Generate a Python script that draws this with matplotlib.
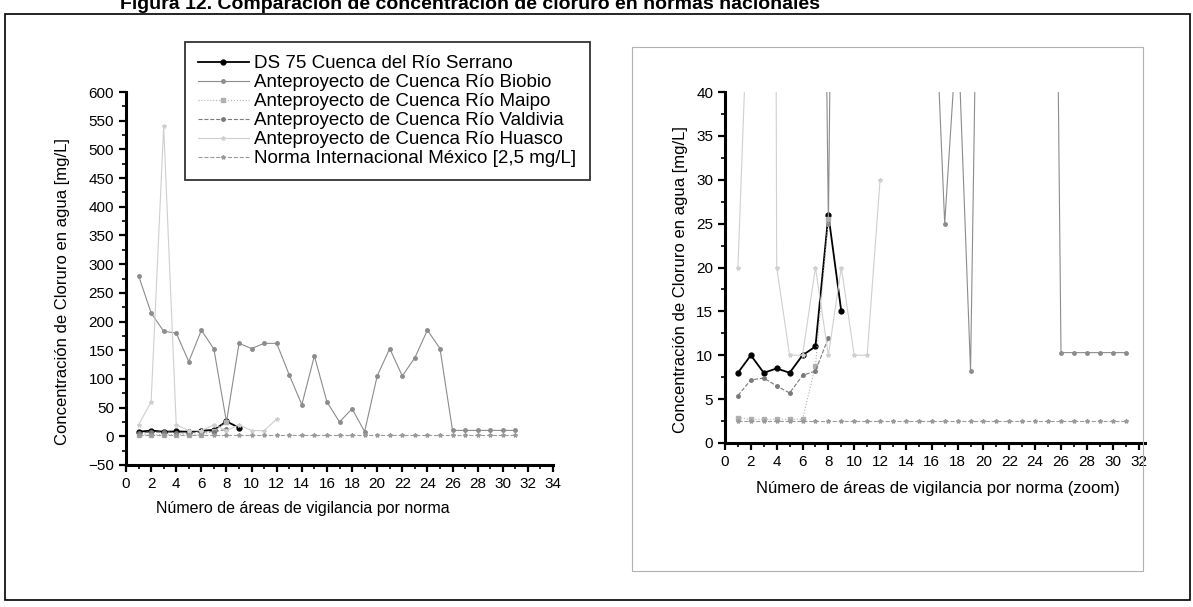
import matplotlib
matplotlib.use("Agg")
import matplotlib.pyplot as plt
from matplotlib.ticker import MultipleLocator
from matplotlib.patches import Rectangle
from matplotlib.lines import Line2D

plt.rcParams['font.family'] = ['Liberation Sans', 'DejaVu Sans']

# ---- data ----
x_serrano = [1, 2, 3, 4, 5, 6, 7, 8, 9]
serrano = [8, 10, 8, 8.5, 8, 10, 11, 26, 15]

x_biobio = list(range(1, 32))
biobio = [280, 215, 183, 180, 130, 185, 152, 25, 162, 153, 162, 162, 107, 55, 140,
          60, 25, 48, 8.2, 105, 153, 105, 137, 185, 153,
          10.3, 10.3, 10.3, 10.3, 10.3, 10.3]

x_maipo = [1, 2, 3, 4, 5, 6, 7, 8]
maipo = [2.9, 2.7, 2.7, 2.7, 2.7, 2.7, 8.8, 25.5]

x_valdivia = [1, 2, 3, 4, 5, 6, 7, 8]
valdivia = [5.4, 7.2, 7.4, 6.5, 5.7, 7.7, 8.2, 12.0]

x_huasco = [1, 2, 3, 4, 5, 6, 7, 8, 9, 10, 11, 12]
huasco = [20, 60, 540, 20, 10, 10, 20, 10, 20, 10, 10, 30]

x_norma = list(range(1, 32))
norma = [2.5] * 31

labels = ["DS 75 Cuenca del Río Serrano",
          "Anteproyecto de Cuenca Río Biobio",
          "Anteproyecto de Cuenca Río Maipo",
          "Anteproyecto de Cuenca Río Valdivia",
          "Anteproyecto de Cuenca Río Huasco",
          "Norma Internacional México [2,5 mg/L]"]

styles = [
    dict(color="black", lw=1.3, marker="o", ms=3.5, ls="-"),
    dict(color="#8c8c8c", lw=0.8, marker="o", ms=2.5, ls="-"),
    dict(color="#b0b0b0", lw=0.8, marker="s", ms=2.5, ls=":"),
    dict(color="#7a7a7a", lw=0.8, marker="o", ms=2.5, ls="--"),
    dict(color="#cfcfcf", lw=0.8, marker="*", ms=3, ls="-"),
    dict(color="#9a9a9a", lw=0.8, marker="*", ms=3, ls="--"),
]
series = [(x_serrano, serrano), (x_biobio, biobio), (x_maipo, maipo),
          (x_valdivia, valdivia), (x_huasco, huasco), (x_norma, norma)]

W, H = 1193, 607
fig = plt.figure(figsize=(W / 100, H / 100), dpi=100)

def fx(px):
    return px / W

def fy(py):
    return 1 - py / H

# frames
fig.patches.append(Rectangle((fx(5), fy(600)), fx(1190 - 5), (600 - 14) / H,
                             transform=fig.transFigure, fill=False, ec="black", lw=1.2))
fig.patches.append(Rectangle((fx(632), fy(571)), fx(1143 - 632), (571 - 47) / H,
                             transform=fig.transFigure, fill=False, ec="#b0b0b0", lw=0.8))

fig.text(fx(120), fy(9), "Figura 12. Comparación de concentración de cloruro en normas nacionales",
         fontsize=14, fontweight="bold", va="baseline", ha="left")

def style_axes(ax):
    for s in ["top", "right"]:
        ax.spines[s].set_visible(False)
    for s in ["left", "bottom"]:
        ax.spines[s].set_linewidth(2.2)
    ax.tick_params(which="major", direction="out", length=5, width=1.6, labelsize=11)
    ax.tick_params(which="minor", direction="out", length=3, width=1.2)

# left axes
axL = fig.add_axes([fx(126), fy(465), fx(553 - 126), (465 - 92) / H])
for (xs, ys), st in zip(series, styles):
    axL.plot(xs, ys, **st)
axL.set_xlim(0, 34)
axL.set_ylim(-50, 600)
axL.xaxis.set_major_locator(MultipleLocator(2))
axL.xaxis.set_minor_locator(MultipleLocator(1))
axL.yaxis.set_major_locator(MultipleLocator(50))
axL.yaxis.set_minor_locator(MultipleLocator(25))
style_axes(axL)
fig.text(fx(303), fy(508), "Número de áreas de vigilancia por norma", fontsize=11.5,
         ha="center", va="center")
fig.text(fx(63), fy(292), "Concentración de Cloruro en agua [mg/L]", fontsize=12,
         ha="center", va="center", rotation=90)

# right axes
axR = fig.add_axes([fx(725), fy(443), fx(1145 - 725), (443 - 92) / H])
for (xs, ys), st in zip(series, styles):
    axR.plot(xs, ys, **st)
axR.set_xlim(0, 32.5)
axR.set_ylim(0, 40)
axR.xaxis.set_major_locator(MultipleLocator(2))
axR.xaxis.set_minor_locator(MultipleLocator(1))
axR.yaxis.set_major_locator(MultipleLocator(5))
axR.yaxis.set_minor_locator(MultipleLocator(2.5))
style_axes(axR)
fig.text(fx(938), fy(488), "Número de áreas de vigilancia por norma (zoom)", fontsize=12,
         ha="center", va="center")
fig.text(fx(681), fy(280), "Concentración de Cloruro en agua [mg/L]", fontsize=12,
         ha="center", va="center", rotation=90)

# legend
handles = [Line2D([], [], **st) for st in styles]
leg = fig.legend(handles, labels, loc="upper left",
                 bbox_to_anchor=(fx(185), fy(42)), fontsize=13.5,
                 frameon=True, fancybox=False, edgecolor="black",
                 handlelength=2.7, handletextpad=0.3, labelspacing=0.1,
                 borderpad=0.7, borderaxespad=0)
leg.get_frame().set_linewidth(1.3)

fig.savefig("out.png", dpi=100, facecolor="white")
